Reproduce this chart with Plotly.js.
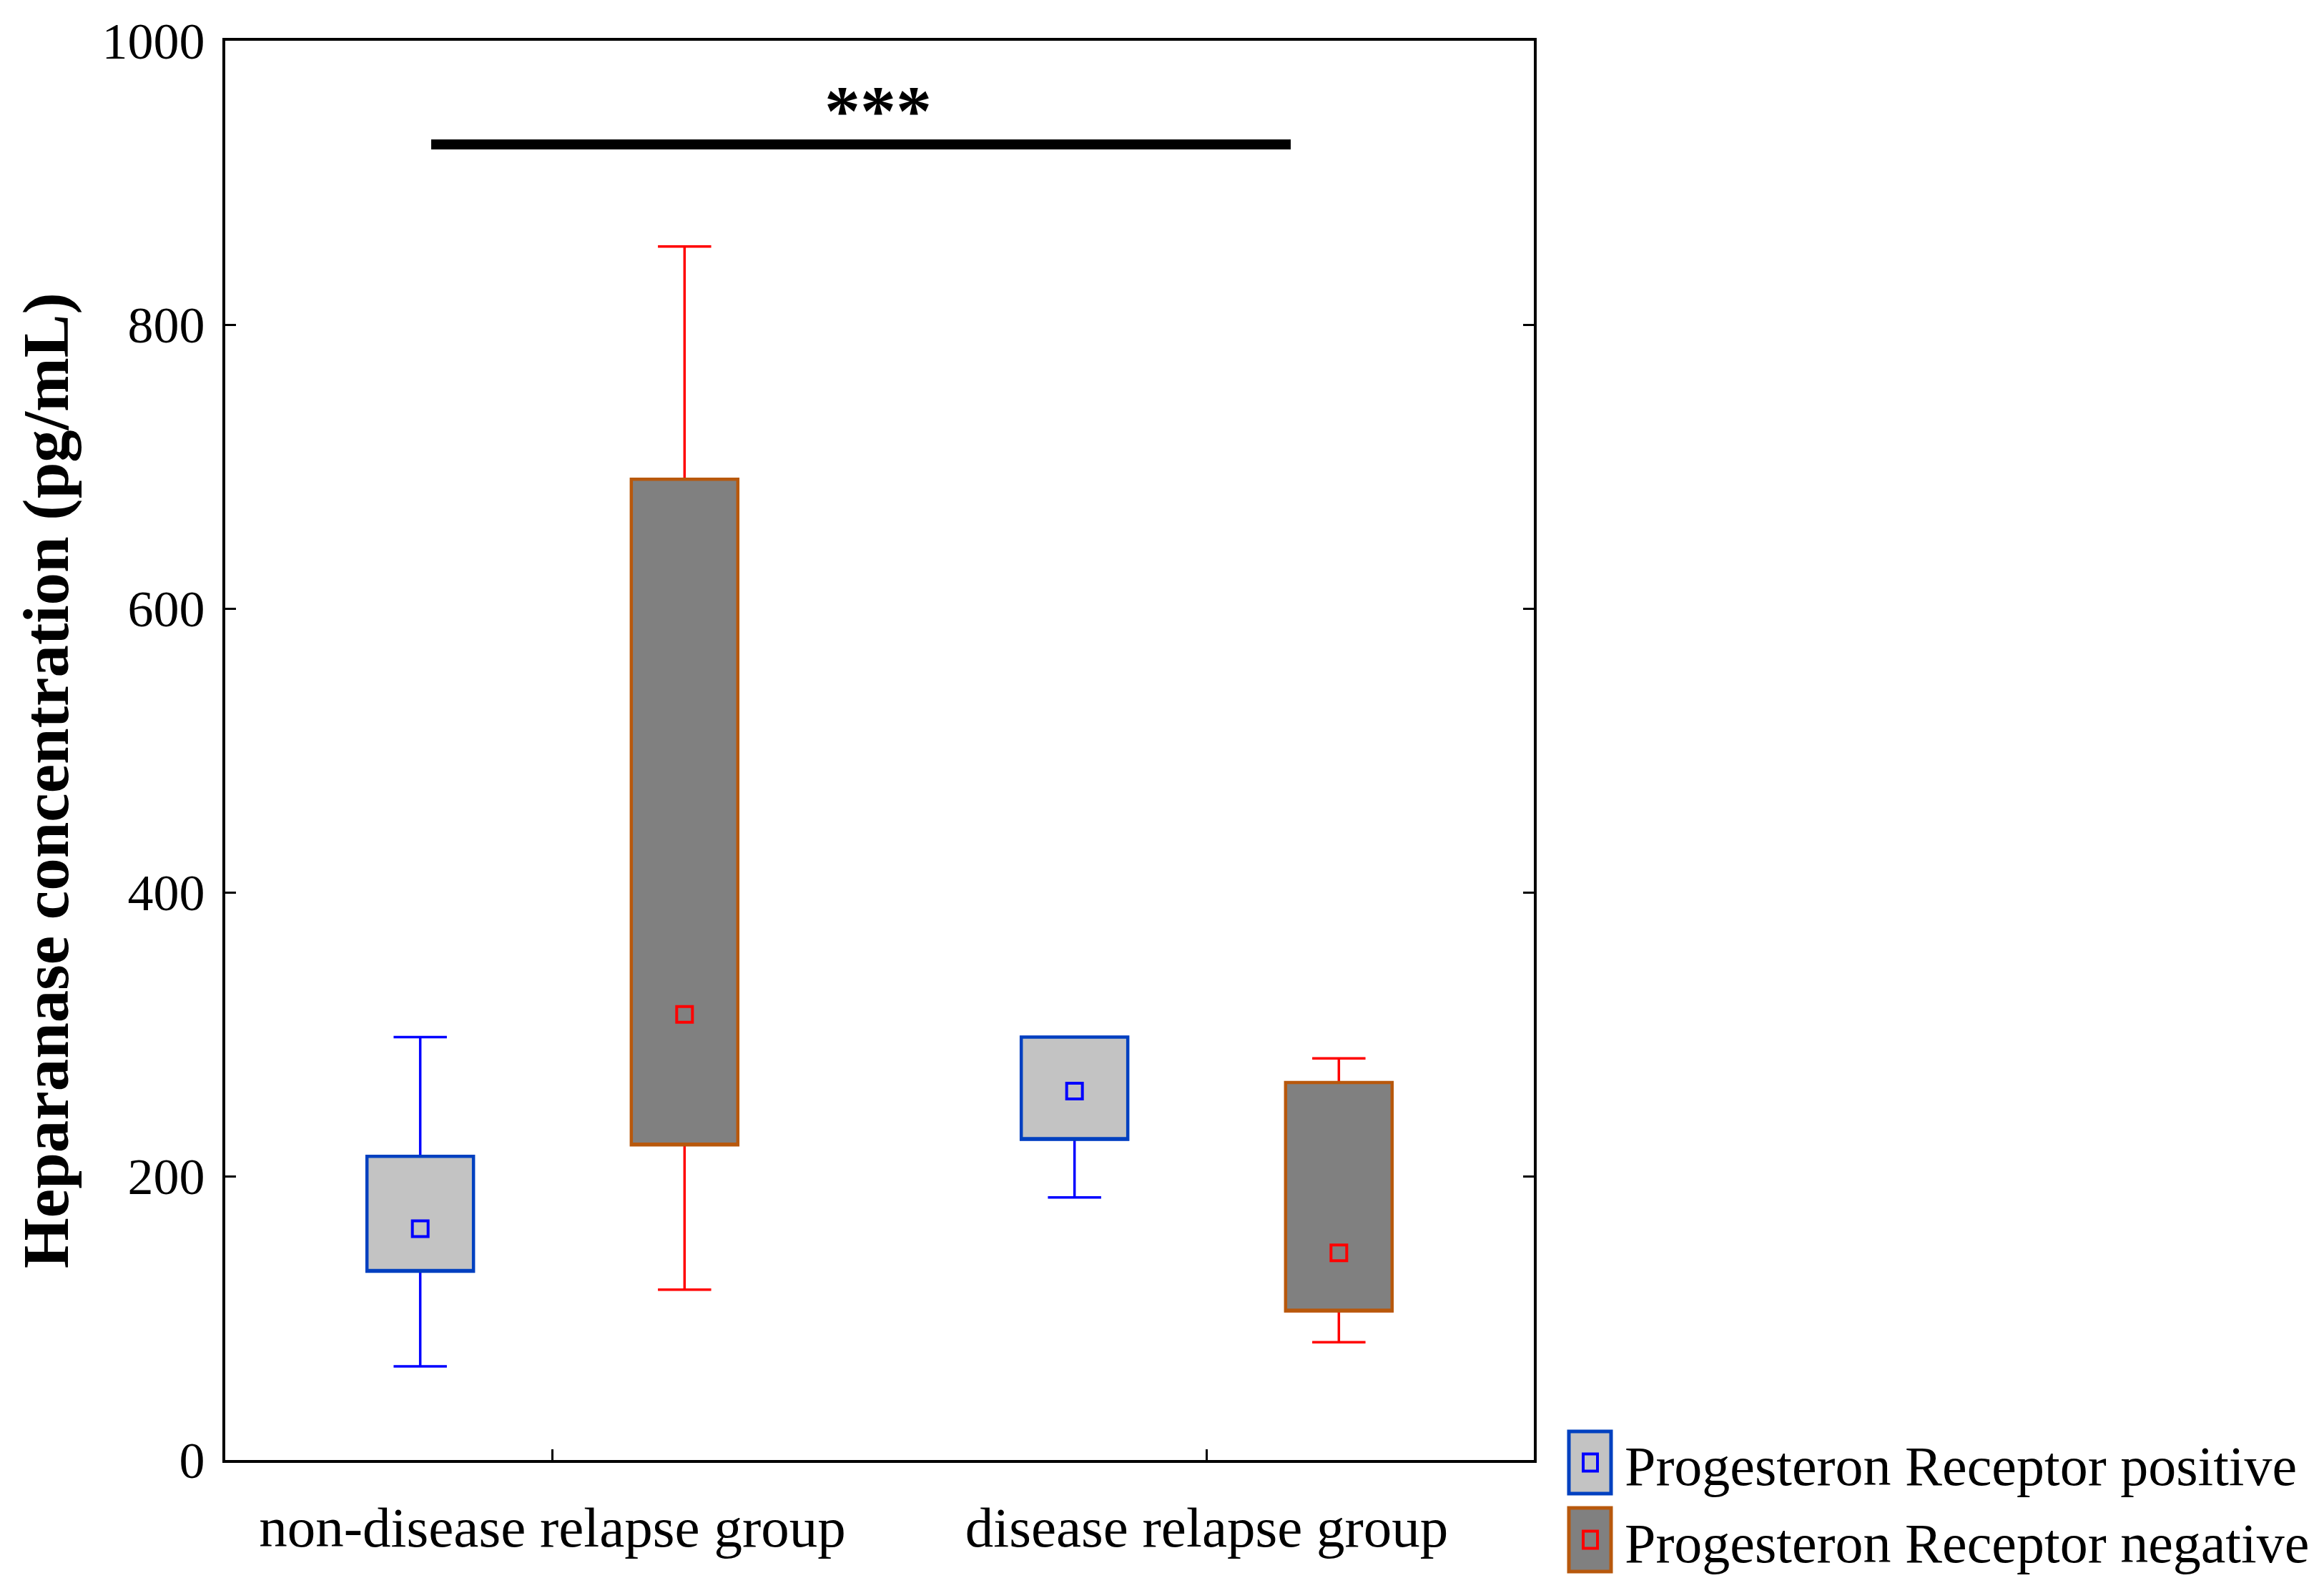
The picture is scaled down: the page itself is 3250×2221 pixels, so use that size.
<!DOCTYPE html>
<html>
<head>
<meta charset="utf-8">
<script src="https://cdn.plot.ly/plotly-3.0.1.min.js"></script>
<style>
  html, body { margin: 0; padding: 0; background: #fff; }
  #chart { width: 3250px; height: 2221px; }
</style>
</head>
<body>
<div id="chart"></div>
<script>
// groups on the x axis
var categories = ['non-disease relapse group', 'disease relapse group'];
var seriesNames = ['Progesteron Receptor positive', 'Progesteron Receptor negative'];

// PR positive: whisker ends, box edges and centre point
var posMin  = [66, 185];
var posQ1   = [133, 226];
var posMid  = [163, 260];
var posQ3   = [214, 298];
var posMax  = [298, 298];

// PR negative
var negMin  = [120, 83];
var negQ1   = [222, 105];
var negMid  = [314, 146];
var negQ3   = [691, 266];
var negMax  = [855, 283];

var yTicks = [0, 200, 400, 600, 800, 1000];
var yTitle = 'Heparanase concentration (pg/mL)';
var signifLabel = '***';
var signifLevel = 927;

var FONT = 'Liberation Serif, Times New Roman, serif';

// plot area in pixels, used for the hand made legend
var W = 3250, H = 2221;
var L = 315, R = 2145, T = 57, B = 2042;
function px(x) { return (x - L) / (R - L); }
function py(y) { return (B - y) / (B - T); }

var styles = [
  { whisker: '#0000ff', border: '#0040c0', fill: '#c3c3c3', mark: '#0000ff', group: 'pos' },
  { whisker: '#ff0000', border: '#b8580c', fill: '#808080', mark: '#ff0000', group: 'neg' }
];
var sets = [
  { lo: posMin, q1: posQ1, mid: posMid, q3: posQ3, hi: posMax },
  { lo: negMin, q1: negQ1, mid: negMid, q3: negQ3, hi: negMax }
];

var data = [];

// whiskers (own colour)
sets.forEach(function (s, i) {
  data.push({
    type: 'box', name: seriesNames[i], x: categories,
    q1: s.q1, median: s.q1, q3: s.q3, lowerfence: s.lo, upperfence: s.hi,
    alignmentgroup: 'a', offsetgroup: styles[i].group,
    line: { color: styles[i].whisker, width: 3.5 },
    fillcolor: 'rgba(0,0,0,0)', whiskerwidth: 0.5,
    showlegend: false, hoverinfo: 'skip'
  });
});

// boxes drawn over the whiskers
sets.forEach(function (s, i) {
  data.push({
    type: 'box', name: seriesNames[i], x: categories,
    q1: s.q1, median: s.q1, q3: s.q3, lowerfence: s.q1, upperfence: s.q3,
    alignmentgroup: 'a', offsetgroup: styles[i].group,
    line: { color: styles[i].border, width: 4.5 },
    fillcolor: styles[i].fill, whiskerwidth: 0,
    showlegend: false
  });
});

// centre points
sets.forEach(function (s, i) {
  data.push({
    type: 'scatter', mode: 'markers', name: seriesNames[i],
    x: categories, y: s.mid,
    alignmentgroup: 'a', offsetgroup: styles[i].group,
    marker: { symbol: 'square', size: 22, color: styles[i].fill,
              line: { color: styles[i].mark, width: 4 } },
    showlegend: false
  });
});

// legend made of shapes + text so the keys can be as large as in the figure
var shapes = [];
var annotations = [];
var rows = [{ top: 2002, bot: 2089 }, { top: 2109, bot: 2198 }];
rows.forEach(function (r, i) {
  var cy = (r.top + r.bot) / 2;
  shapes.push({
    type: 'rect', xref: 'paper', yref: 'paper',
    x0: px(2194), x1: px(2253), y0: py(r.bot), y1: py(r.top),
    fillcolor: styles[i].fill, line: { color: styles[i].border, width: 5 }
  });
  shapes.push({
    type: 'rect', xref: 'paper', yref: 'paper',
    x0: px(2214), x1: px(2234), y0: py(cy + 12), y1: py(cy - 12),
    fillcolor: styles[i].fill, line: { color: styles[i].mark, width: 4 }
  });
  annotations.push({
    xref: 'paper', yref: 'paper', x: px(2270), y: py(cy + 5),
    xanchor: 'left', yanchor: 'middle', showarrow: false,
    text: seriesNames[i], font: { family: FONT, size: 78, color: '#000' }
  });
});

// significance bar
shapes.push({
  type: 'line', xref: 'paper', yref: 'y',
  x0: px(603), x1: px(1805), y0: signifLevel, y1: signifLevel,
  line: { color: '#000', width: 14 }
});
annotations.push({
  xref: 'paper', yref: 'paper', x: px(1228), y: py(155),
  xanchor: 'center', yanchor: 'middle', showarrow: false,
  text: signifLabel, font: { family: FONT, size: 100, color: '#000', weight: 'bold' }
});

// y axis title, placed where it sits in the figure
annotations.push({
  xref: 'paper', yref: 'paper', x: px(64), y: py(1092),
  xanchor: 'center', yanchor: 'middle', showarrow: false, textangle: -90,
  text: yTitle, font: { family: FONT, size: 91, color: '#000', weight: 'bold' }
});

var layout = {
  width: W, height: H,
  margin: { l: L, r: W - R, t: T, b: H - B, pad: 0 },
  paper_bgcolor: '#fff', plot_bgcolor: '#fff',
  font: { family: FONT, color: '#000', size: 72 },
  boxmode: 'group', boxgap: 0.192, boxgroupgap: 0.597,
  scattermode: 'group', scattergap: 0.192,
  showlegend: false,
  xaxis: {
    type: 'category', range: [-0.5, 1.5],
    showline: true, linecolor: '#000', linewidth: 4, mirror: true,
    ticks: 'inside', ticklen: 15, tickwidth: 3, tickcolor: '#000',
    showgrid: false, zeroline: false,
    tickfont: { family: FONT, size: 79, color: '#000' },
    ticklabelstandoff: 22
  },
  yaxis: {
    range: [0, 1000], tickvals: yTicks,
    showline: true, linecolor: '#000', linewidth: 4, mirror: 'ticks',
    ticks: 'inside', ticklen: 15, tickwidth: 3, tickcolor: '#000',
    showgrid: false, zeroline: false,
    tickfont: { family: FONT, size: 72, color: '#000' },
    ticklabelstandoff: 10
  },
  shapes: shapes,
  annotations: annotations
};

Plotly.newPlot('chart', data, layout, { staticPlot: true });
</script>
</body>
</html>
